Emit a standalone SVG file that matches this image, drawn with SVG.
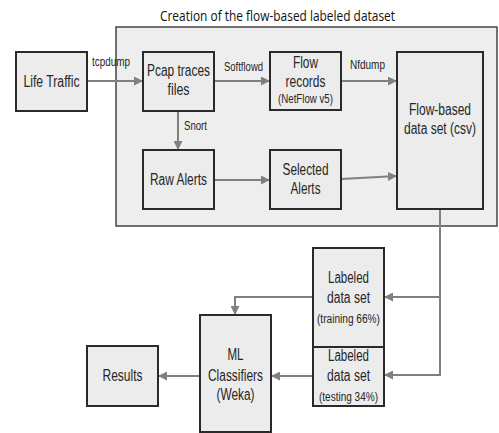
<svg xmlns="http://www.w3.org/2000/svg" width="499" height="433" viewBox="0 0 499 433">
<defs>
<style>
.bg{fill:#ffffff}
.cont{fill:#eeeeee;stroke:#444444;stroke-width:1.5}
.box{fill:#ececec;stroke:#2a2a2a;stroke-width:2}
.t{font-family:"Liberation Sans",Arial,sans-serif;font-size:16px;fill:#262626;text-anchor:middle}
.s{font-family:"Liberation Sans",Arial,sans-serif;font-size:12.5px;fill:#262626;text-anchor:middle}
.l{font-family:"Liberation Sans",Arial,sans-serif;font-size:12px;fill:#262626;text-anchor:start}
.title{font-family:"Open Sans","Liberation Sans",sans-serif;font-size:14px;fill:#111111;text-anchor:start}
.c{fill:none;stroke:#808080;stroke-width:2}
</style>
<marker id="ah" viewBox="0 0 10 10" refX="10" refY="5" markerWidth="4.5" markerHeight="4.5" orient="auto" markerUnits="strokeWidth">
<path d="M0,0 L10,5 L0,10 z" fill="#808080"/>
</marker>
</defs>
<rect class="bg" x="0" y="0" width="499" height="433"/>
<g id="title">
<text class="title" x="160" y="21" textLength="235" lengthAdjust="spacingAndGlyphs">Creation of the flow-based labeled dataset</text>
</g>
<g id="container">
<rect class="cont" x="116" y="27" width="381" height="199"/>
</g>
<g id="connectors">
<line class="c" x1="87" y1="81" x2="143" y2="81" marker-end="url(#ah)"/>
<line class="c" x1="214" y1="81" x2="270" y2="81" marker-end="url(#ah)"/>
<line class="c" x1="341" y1="81" x2="397" y2="81" marker-end="url(#ah)"/>
<line class="c" x1="178" y1="111" x2="178" y2="150" marker-end="url(#ah)"/>
<line class="c" x1="214" y1="180" x2="270" y2="180" marker-end="url(#ah)"/>
<line class="c" x1="341" y1="179" x2="397" y2="176" marker-end="url(#ah)"/>
<polyline class="c" points="440,209 440,375 384,375" marker-end="url(#ah)"/>
<line class="c" x1="440" y1="297" x2="384" y2="297" marker-end="url(#ah)"/>
<polyline class="c" points="313,297 235,297 235,315" marker-end="url(#ah)"/>
<line class="c" x1="313" y1="376" x2="271" y2="376" marker-end="url(#ah)"/>
<line class="c" x1="200" y1="376" x2="158" y2="376" marker-end="url(#ah)"/>
<text class="l" x="92" y="66" textLength="38" lengthAdjust="spacingAndGlyphs">tcpdump</text>
<text class="l" x="224" y="71" textLength="39" lengthAdjust="spacingAndGlyphs">Softflowd</text>
<text class="l" x="350" y="69" textLength="35" lengthAdjust="spacingAndGlyphs">Nfdump</text>
<text class="l" x="184" y="130" textLength="23" lengthAdjust="spacingAndGlyphs">Snort</text>
</g>
<g id="life-traffic">
<rect class="box" x="16" y="52" width="71" height="59"/>
<text class="t" x="51.5" y="87" textLength="56" lengthAdjust="spacingAndGlyphs">Life Traffic</text>
</g>
<g id="pcap">
<rect class="box" x="143" y="52" width="71" height="59"/>
<text class="t" x="178.5" y="76" textLength="63" lengthAdjust="spacingAndGlyphs">Pcap traces</text>
<text class="t" x="178.5" y="95" textLength="22" lengthAdjust="spacingAndGlyphs">files</text>
</g>
<g id="flow-records">
<rect class="box" x="270" y="52" width="71" height="58"/>
<text class="t" x="305.5" y="68" textLength="25" lengthAdjust="spacingAndGlyphs">Flow</text>
<text class="t" x="305.5" y="87" textLength="40" lengthAdjust="spacingAndGlyphs">records</text>
<text class="s" x="305.5" y="103" textLength="55" lengthAdjust="spacingAndGlyphs">(NetFlow v5)</text>
</g>
<g id="flow-dataset">
<rect class="box" x="397" y="52" width="86" height="157"/>
<text class="t" x="440" y="115" textLength="62" lengthAdjust="spacingAndGlyphs">Flow-based</text>
<text class="t" x="440" y="134" textLength="72" lengthAdjust="spacingAndGlyphs">data set (csv)</text>
</g>
<g id="raw-alerts">
<rect class="box" x="143" y="150" width="71" height="59"/>
<text class="t" x="178.5" y="185" textLength="57" lengthAdjust="spacingAndGlyphs">Raw Alerts</text>
</g>
<g id="selected-alerts">
<rect class="box" x="270" y="150" width="71" height="59"/>
<text class="t" x="305.5" y="175" textLength="46" lengthAdjust="spacingAndGlyphs">Selected</text>
<text class="t" x="305.5" y="194" textLength="30" lengthAdjust="spacingAndGlyphs">Alerts</text>
</g>
<g id="training">
<rect class="box" x="313" y="248" width="71" height="99"/>
<text class="t" x="348.5" y="283" textLength="41" lengthAdjust="spacingAndGlyphs">Labeled</text>
<text class="t" x="348.5" y="303" textLength="43" lengthAdjust="spacingAndGlyphs">data set</text>
<text class="s" x="348.5" y="323" textLength="63" lengthAdjust="spacingAndGlyphs">(training 66%)</text>
</g>
<g id="testing">
<rect class="box" x="313" y="347" width="71" height="59"/>
<text class="t" x="348.5" y="361" textLength="41" lengthAdjust="spacingAndGlyphs">Labeled</text>
<text class="t" x="348.5" y="381" textLength="43" lengthAdjust="spacingAndGlyphs">data set</text>
<text class="s" x="348.5" y="401" textLength="59" lengthAdjust="spacingAndGlyphs">(testing 34%)</text>
</g>
<g id="ml">
<rect class="box" x="200" y="315" width="71" height="117"/>
<text class="t" x="235.5" y="360" textLength="16" lengthAdjust="spacingAndGlyphs">ML</text>
<text class="t" x="235.5" y="381" textLength="55" lengthAdjust="spacingAndGlyphs">Classifiers</text>
<text class="t" x="235.5" y="400" textLength="38" lengthAdjust="spacingAndGlyphs">(Weka)</text>
</g>
<g id="results">
<rect class="box" x="87" y="346" width="71" height="60"/>
<text class="t" x="122.5" y="381" textLength="40" lengthAdjust="spacingAndGlyphs">Results</text>
</g>
</svg>
